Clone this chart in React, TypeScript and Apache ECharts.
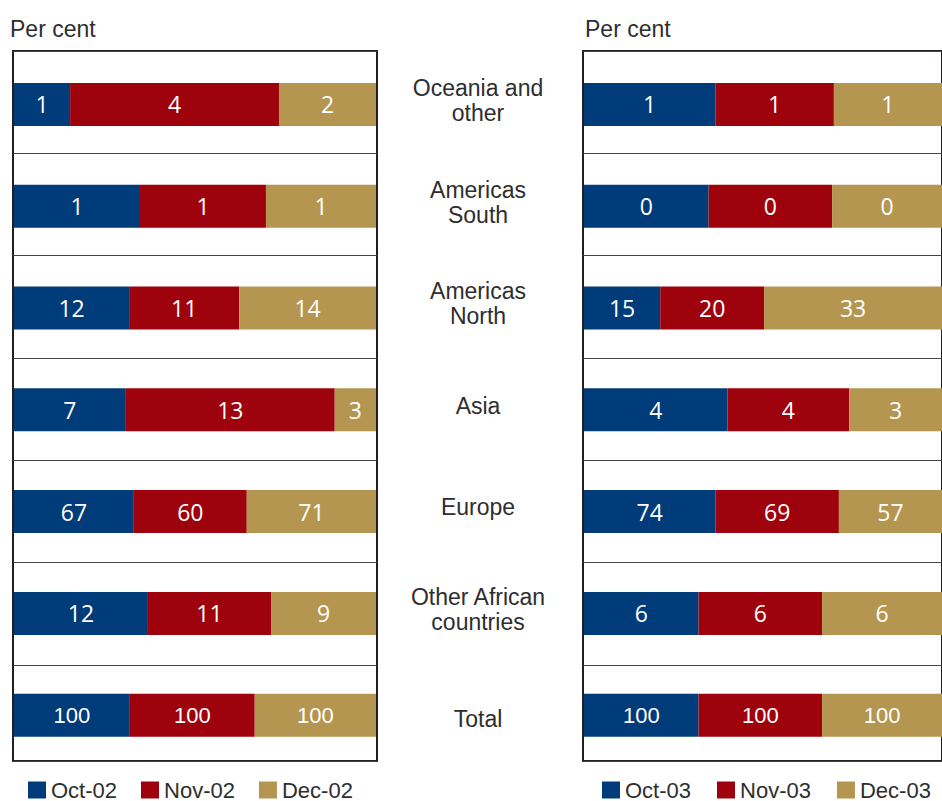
import React, { useEffect, useRef } from 'react';
import * as echarts from 'echarts';

// Categories (top to bottom)
const categories = [
  'Oceania and\nother',
  'Americas\nSouth',
  'Americas\nNorth',
  'Asia',
  'Europe',
  'Other African\ncountries',
  'Total',
];

// Values printed in the bars (per cent)
const oct02 = [1, 1, 12, 7, 67, 12, 100];
const nov02 = [4, 1, 11, 13, 60, 11, 100];
const dec02 = [2, 1, 14, 3, 71, 9, 100];
const oct03 = [1, 0, 15, 4, 74, 6, 100];
const nov03 = [1, 0, 20, 4, 69, 6, 100];
const dec03 = [1, 0, 33, 3, 57, 6, 100];

// Share of each bar's length taken by each segment (per cent of the row)
const oct02Share = [15.5, 34.8, 31.8, 30.9, 33.1, 37.0, 32.0];
const nov02Share = [57.7, 34.8, 30.4, 57.7, 31.2, 34.0, 34.5];
const dec02Share = [26.8, 30.4, 37.8, 11.4, 35.7, 29.0, 33.5];
const oct03Share = [36.7, 34.8, 21.3, 40.1, 36.7, 32.0, 32.0];
const nov03Share = [33.1, 34.5, 29.0, 34.0, 34.5, 34.5, 34.5];
const dec03Share = [30.2, 30.7, 49.7, 25.9, 28.8, 33.5, 33.5];

const names02 = ['Oct-02', 'Nov-02', 'Dec-02'];
const names03 = ['Oct-03', 'Nov-03', 'Dec-03'];

const COLORS = ['#003B7A', '#9E020C', '#B49651'];
const TEXT = '#2e2e2e';
const SANS = '"Liberation Sans", Arial, Helvetica, sans-serif';
const LABEL_FONT = '"Open Sans", "Noto Sans", sans-serif';

function barSeries(
  name: string,
  shares: number[],
  labels: number[],
  color: string,
  axisIndex: number,
  stack: string
) {
  return {
    type: 'bar',
    name,
    stack,
    xAxisIndex: axisIndex,
    yAxisIndex: axisIndex,
    barWidth: 43,
    itemStyle: { color },
    emphasis: { disabled: true },
    label: {
      show: true,
      position: 'inside',
      color: '#ffffff',
      fontSize: 23,
      fontFamily: LABEL_FONT,
      formatter: (p: any) => String(labels[p.dataIndex]),
    },
    data: shares.map((v, i) =>
      i === categories.length - 1
        ? { value: v, label: { fontFamily: SANS, fontSize: 22 } }
        : v
    ),
  };
}

function frameYAxis(gridIndex: number) {
  return {
    type: 'value',
    gridIndex,
    inverse: true,
    min: 0,
    max: 6.94,
    interval: 1,
    axisLine: { show: false },
    axisTick: { show: false },
    axisLabel: { show: false },
    splitLine: { show: true, lineStyle: { color: '#444444', width: 1 } },
  };
}

function plainCategoryAxis(gridIndex: number) {
  return {
    type: 'category',
    gridIndex,
    data: categories,
    inverse: true,
    axisLine: { show: false },
    axisTick: { show: false },
    splitLine: { show: false },
    axisLabel: { show: false },
  };
}

function legend(names: string[], left: number, gap: number) {
  return {
    data: names,
    left,
    top: 779,
    padding: 0,
    icon: 'rect',
    itemWidth: 18,
    itemHeight: 17,
    itemGap: gap,
    selectedMode: false,
    textStyle: { fontSize: 22, lineHeight: 18, color: TEXT, fontFamily: SANS },
  };
}

export default function App() {
  const ref = useRef<HTMLDivElement>(null);

  useEffect(() => {
    if (!ref.current) return;
    const chart = echarts.init(ref.current, undefined, { renderer: 'svg' });
    const labelData = categories.map((c, i) =>
      i === categories.length - 1
        ? { value: c, textStyle: { align: 'center', verticalAlign: 'top', lineHeight: 15 } }
        : c
    );
    const option: any = {
      animation: false,
      backgroundColor: '#ffffff',
      title: [
        {
          text: 'Per cent',
          left: 10,
          top: 17,
          padding: 0,
          textStyle: { fontSize: 23, fontWeight: 'normal', color: TEXT, fontFamily: SANS },
        },
        {
          text: 'Per cent',
          left: 585,
          top: 17,
          padding: 0,
          textStyle: { fontSize: 23, fontWeight: 'normal', color: TEXT, fontFamily: SANS },
        },
      ],
      legend: [legend(names02, 28, 24), legend(names03, 602, 26)],
      grid: [
        { left: 14, top: 53.5, width: 362, height: 712.6 },
        { left: 13, top: 51, width: 364, height: 710, show: true, borderColor: '#231f20', borderWidth: 2 },
        { left: 584, top: 53.5, width: 362, height: 712.6 },
        { left: 583, top: 51, width: 364, height: 710, show: true, borderColor: '#231f20', borderWidth: 2 },
        { left: 14, top: 49.3, width: 362, height: 712.6 },
      ],
      xAxis: [
        { type: 'value', gridIndex: 0, min: 0, max: 100, show: false },
        { type: 'value', gridIndex: 1, min: 0, max: 1, show: false },
        { type: 'value', gridIndex: 2, min: 0, max: 100, show: false },
        { type: 'value', gridIndex: 3, min: 0, max: 1, show: false },
        { type: 'value', gridIndex: 4, min: 0, max: 1, show: false },
      ],
      yAxis: [
        plainCategoryAxis(0),
        frameYAxis(1),
        plainCategoryAxis(2),
        frameYAxis(3),
        {
          type: 'category',
          gridIndex: 4,
          data: labelData,
          inverse: true,
          position: 'right',
          axisLine: { show: false },
          axisTick: { show: false },
          splitLine: { show: false },
          axisLabel: {
            margin: 102,
            align: 'center',
            fontSize: 23,
            lineHeight: 25,
            color: TEXT,
            fontFamily: SANS,
          },
        },
      ],
      series: [
        barSeries(names02[0], oct02Share, oct02, COLORS[0], 0, 'y02'),
        barSeries(names02[1], nov02Share, nov02, COLORS[1], 0, 'y02'),
        barSeries(names02[2], dec02Share, dec02, COLORS[2], 0, 'y02'),
        barSeries(names03[0], oct03Share, oct03, COLORS[0], 2, 'y03'),
        barSeries(names03[1], nov03Share, nov03, COLORS[1], 2, 'y03'),
        barSeries(names03[2], dec03Share, dec03, COLORS[2], 2, 'y03'),
      ],
    };
    chart.setOption(option);
    return () => chart.dispose();
  }, []);

  return (
    <div
      ref={ref}
      style={{ position: 'absolute', left: 0, top: 0, width: 942, height: 801, overflow: 'hidden' }}
    />
  );
}
